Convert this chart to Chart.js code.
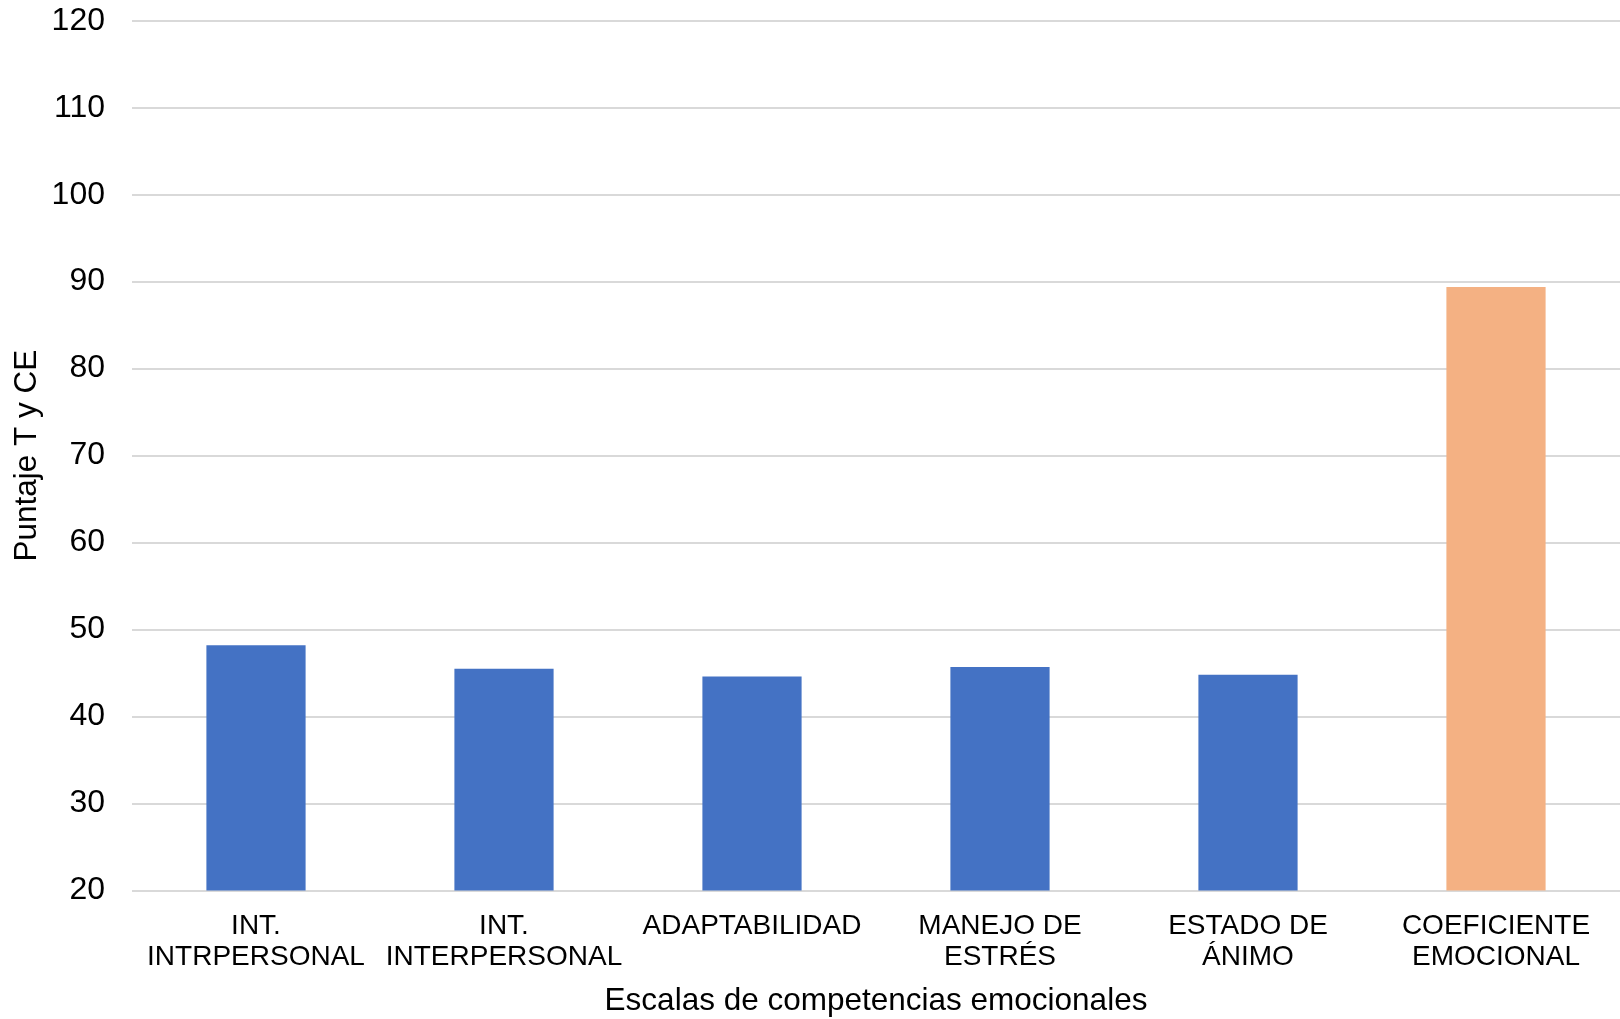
<!DOCTYPE html>
<html>
<head>
<meta charset="utf-8">
<title>Escalas de competencias emocionales</title>
<script src="https://cdn.jsdelivr.net/npm/chart.js@4/dist/chart.umd.min.js"></script>
<style>
  html, body { margin: 0; padding: 0; background: #fff; }
  canvas { display: block; }
</style>
</head>
<body>
<canvas id="chart" width="1620" height="1019"></canvas>
<script>
// scale names (multi-line labels as arrays)
const categories = [
  ["INT.", "INTRPERSONAL"],
  ["INT.", "INTERPERSONAL"],
  "ADAPTABILIDAD",
  ["MANEJO DE", "ESTRÉS"],
  ["ESTADO DE", "ÁNIMO"],
  ["COEFICIENTE", "EMOCIONAL"]
];

// T scores for the five scales, then the emotional quotient
const scores = [48.2, 45.5, 44.6, 45.7, 44.8, 89.4];

const barColors = ["#4472C4", "#4472C4", "#4472C4", "#4472C4", "#4472C4", "#F4B183"];

const yMin = 20;
const yMax = 120;
const yStep = 10;

const fontFamily = "'Liberation Sans', Arial, sans-serif";

const ctx = document.getElementById("chart").getContext("2d");

new Chart(ctx, {
  type: "bar",
  data: {
    labels: categories,
    datasets: [
      {
        data: scores,
        backgroundColor: barColors,
        borderWidth: 0,
        barPercentage: 0.4,
        categoryPercentage: 1.0
      }
    ]
  },
  options: {
    responsive: false,
    devicePixelRatio: 1,
    animation: false,
    layout: {
      padding: { top: 20.7, right: 0, bottom: 0, left: 0 }
    },
    plugins: {
      legend: { display: false },
      tooltip: { enabled: false }
    },
    scales: {
      x: {
        grid: { display: false },
        border: { display: false },
        ticks: {
          color: "#000",
          autoSkip: false,
          maxRotation: 0,
          minRotation: 0,
          padding: 12,
          font: { family: fontFamily, size: 28, lineHeight: 1.12 }
        },
        title: {
          display: true,
          text: "Escalas de competencias emocionales",
          color: "#000",
          padding: { top: 0, bottom: -1 },
          font: { family: fontFamily, size: 31.5, lineHeight: 1.2 }
        },
        afterFit: scale => {
          scale.height = 128.4;
        }
      },
      y: {
        min: yMin,
        max: yMax,
        grid: {
          color: "#d9d9d9",
          lineWidth: 2,
          drawTicks: false
        },
        border: { display: false },
        ticks: {
          stepSize: yStep,
          color: "#000",
          padding: 27,
          font: { family: fontFamily, size: 32 }
        },
        title: {
          display: true,
          text: "Puntaje T y CE",
          color: "#000",
          padding: { top: 8, bottom: 0 },
          font: { family: fontFamily, size: 31.5, lineHeight: 1.2 }
        },
        afterFit: scale => {
          scale.width = 132;
          // tick padding would otherwise push the top gridline down
          scale.paddingTop = 0;
          scale.paddingBottom = 0;
        }
      }
    }
  }
});
</script>
</body>
</html>
